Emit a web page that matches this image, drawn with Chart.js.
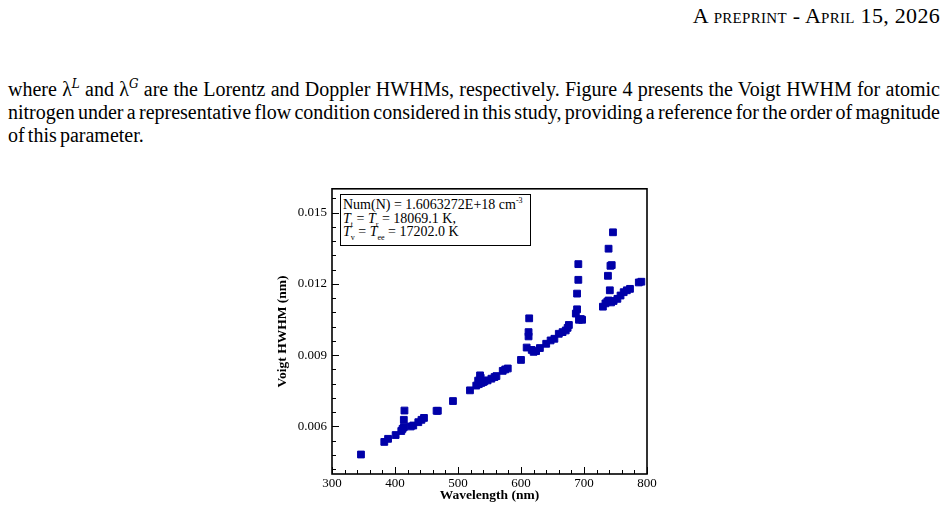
<!DOCTYPE html>
<html>
<head>
<meta charset="utf-8">
<script src="https://cdn.jsdelivr.net/npm/chart.js@4"></script>
<style>
  body { margin: 0; background: #fff; width: 949px; height: 510px; position: relative; overflow: hidden;
         font-family: "Liberation Serif", "DejaVu Serif", serif; color: #000; }
  #head { position: absolute; right: 9px; top: 3px; font-size: 22px; font-variant: small-caps; white-space: nowrap; letter-spacing: 0.3px; }
  #para { position: absolute; left: 8px; top: 71px; width: 932px; font-size: 20px; line-height: 23px; word-spacing: -1.8px; }
  #para div { text-align: justify; text-align-last: justify; white-space: nowrap; }
  #para div.last { text-align-last: left; }
  #para i { font-family: "DejaVu Serif", serif; font-style: italic; }
  #chartWrap { position: absolute; left: 260px; top: 176px; }
  #note { position: absolute; left: 340px; top: 194px; width: 191px; height: 52px; box-sizing: border-box;
          border: 1.5px solid #000; background: #fff; font-size: 14px; line-height: 13.5px; padding: 3px 0 0 2px; white-space: nowrap; }
  #note sub, #note sup { font-size: 8px; line-height: 0; }
</style>
</head>
<body>
<div id="head">A preprint - April 15, 2026</div>
<div id="para">
  <div>where λ<sup><i style="font-size:12px">L</i></sup> and λ<sup><i style="font-size:12px">G</i></sup> are the Lorentz and Doppler HWHMs, respectively. Figure 4 presents the Voigt HWHM for atomic</div>
  <div>nitrogen under a representative flow condition considered in this study, providing a reference for the order of magnitude</div>
  <div class="last">of this parameter.</div>
</div>
<div id="chartWrap"><canvas id="voigtChart" width="410" height="334"></canvas></div>
<div id="note">Num(N) = 1.6063272E+18 cm<sup>-3</sup><br><i>T</i><sub>t</sub> = <i>T</i><sub>r</sub> = 18069.1 K,<br><i>T</i><sub>v</sub> = <i>T</i><sub>ee</sub> = 17202.0 K</div>

<script>
// wavelength (nm) and Voigt HWHM (nm) for atomic nitrogen lines
var wavelength = [346, 383, 389, 401, 410, 412, 414, 414, 415, 425, 429, 437, 442, 446,
  466, 468, 492, 519, 529, 532, 533, 535, 536, 537, 540, 542, 547, 553, 558, 561,
  571, 575, 579, 600, 609, 612, 612, 613, 617, 620, 624, 630, 640, 647, 653, 660,
  666, 671, 674, 676, 687, 689, 689, 691, 691, 692, 695, 697,
  730, 734, 737, 738, 739, 739, 741, 742, 743, 744, 746, 747, 753, 758, 763, 768, 773, 787, 791];
var hwhm = [0.00482, 0.00535, 0.00548, 0.00564, 0.00581, 0.00590, 0.00597, 0.00628, 0.00667, 0.00600, 0.00604, 0.00618, 0.00628, 0.00636,
  0.00666, 0.00666, 0.00707, 0.00752, 0.00772, 0.00793, 0.00778, 0.00815, 0.00805, 0.00783, 0.00787, 0.00790, 0.00794, 0.00801, 0.00808, 0.00812,
  0.00834, 0.00840, 0.00844, 0.00880, 0.00932, 0.00979, 0.00997, 0.01055, 0.00922, 0.00914, 0.00917, 0.00930, 0.00948, 0.00962, 0.00969, 0.00990,
  0.00997, 0.01004, 0.01015, 0.01027, 0.01075, 0.01093, 0.01159, 0.01217, 0.01283, 0.01049, 0.01052, 0.01049,
  0.01104, 0.01118, 0.01125, 0.01234, 0.01348, 0.01130, 0.01173, 0.01276, 0.01122, 0.01279, 0.01417, 0.01128, 0.01137, 0.01151, 0.01165, 0.01173, 0.01179, 0.01206, 0.01209];

var xTicks = [300, 400, 500, 600, 700, 800];
var yTicks = [0.006, 0.009, 0.012, 0.015];

var points = wavelength.map(function (w, i) { return { x: w, y: hwhm[i] }; });

// tecplot style frame with inward ticks
var frameTicks = {
  id: 'frameTicks',
  afterDraw: function (chart) {
    var ctx = chart.ctx, a = chart.chartArea, xs = chart.scales.x, ys = chart.scales.y;
    ctx.save();
    ctx.strokeStyle = '#000';
    ctx.lineWidth = 1;
    ctx.beginPath();
    for (var v = xs.min; v <= xs.max + 0.01; v += 20) {
      var px = Math.round(xs.getPixelForValue(v)) + 0.5;
      var len = Math.abs(v % 100) < 0.01 ? 7 : 4;
      ctx.moveTo(px, a.bottom);
      ctx.lineTo(px, a.bottom - len);
    }
    for (var k = 0; k <= 20; k++) {
      var yv = 0.0042 + k * 0.0006;
      if (yv > ys.max) break;
      var py = Math.round(ys.getPixelForValue(yv)) + 0.5;
      var major = Math.abs((yv / 0.003) - Math.round(yv / 0.003)) < 0.01;
      ctx.moveTo(a.left, py);
      ctx.lineTo(a.left + (major ? 7 : 4), py);
    }
    ctx.stroke();
    ctx.lineWidth = 1.6;
    ctx.strokeRect(a.left, a.top, a.right - a.left, a.bottom - a.top);
    ctx.restore();
  }
};

var serif = '"Liberation Serif", "Times New Roman", serif';

new Chart(document.getElementById('voigtChart'), {
  type: 'scatter',
  data: {
    datasets: [{
      label: 'Voigt HWHM',
      data: points,
      pointStyle: 'rect',
      pointRadius: 4.8,
      pointBorderWidth: 1,
      backgroundColor: '#0000a8',
      borderColor: '#0000a8'
    }]
  },
  options: {
    responsive: false,
    animation: false,
    layout: { padding: { top: 8, right: 23, left: 0, bottom: 0 } },
    plugins: { legend: { display: false }, tooltip: { enabled: false } },
    scales: {
      x: {
        type: 'linear', min: 300, max: 800,
        afterBuildTicks: function (s) { s.ticks = xTicks.map(function (v) { return { value: v }; }); },
        afterFit: function (s) { s.height = 36; },
        grid: { display: false, drawTicks: false },
        border: { display: false },
        ticks: { color: '#000', padding: 2, maxRotation: 0, font: { family: serif, size: 13 } },
        title: { display: true, text: 'Wavelength (nm)', color: '#000', padding: { top: 0, bottom: 6 },
                 font: { family: serif, size: 13.5, weight: 'bold' } }
      },
      y: {
        type: 'linear', min: 0.004, max: 0.016,
        afterBuildTicks: function (s) { s.ticks = yTicks.map(function (v) { return { value: v }; }); },
        afterFit: function (s) { s.width = 72; },
        grid: { display: false, drawTicks: false },
        border: { display: false },
        ticks: { color: '#000', padding: 5, font: { family: serif, size: 13 },
                 callback: function (v) { return v.toFixed(3); } },
        title: { display: true, text: 'Voigt HWHM (nm)', color: '#000', padding: { top: 14, bottom: 0 },
                 font: { family: serif, size: 13.5, weight: 'bold' } }
      }
    }
  },
  plugins: [frameTicks]
});
</script>
</body>
</html>
